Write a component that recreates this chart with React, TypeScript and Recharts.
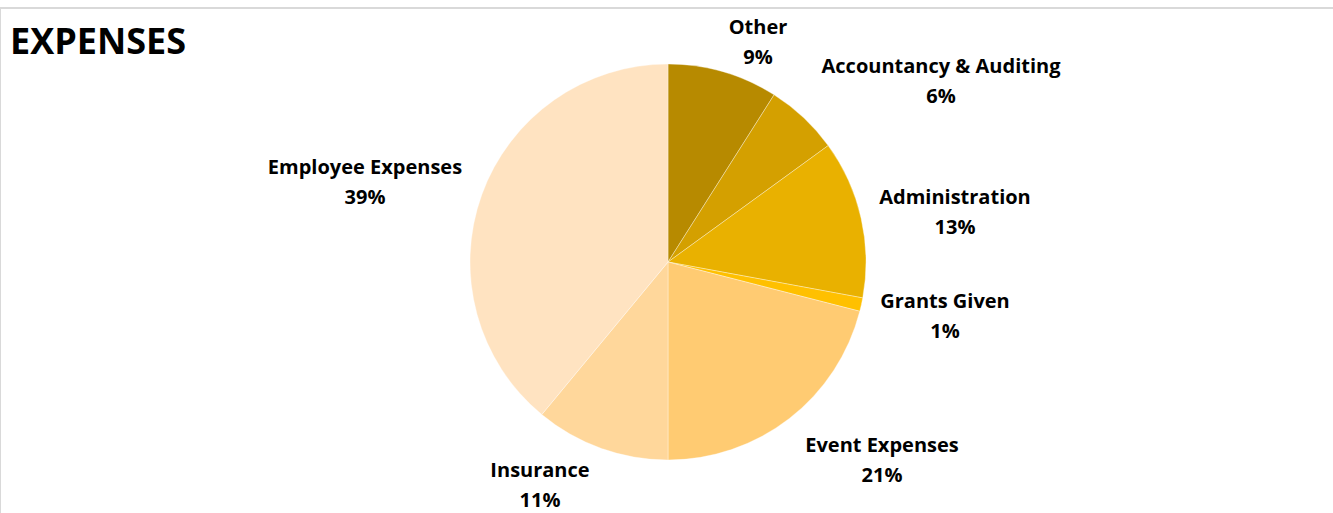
import React from "react";
import { PieChart, Pie, Cell } from "recharts";

const categories = [
  "Other",
  "Accountancy & Auditing",
  "Administration",
  "Grants Given",
  "Event Expenses",
  "Insurance",
  "Employee Expenses",
];
const shares = [9.0, 6.0, 12.9, 1.1, 21.0, 11.0, 39.0];
const sliceColors = ["#B78A00", "#D4A000", "#E9B100", "#FFC000", "#FFCB72", "#FFD79B", "#FFE3C1"];

// label centres, offset from the pie centre (Excel "best fit" placement)
const labelOffsets = [
  [90, -220],
  [273, -181],
  [287, -50],
  [277, 54],
  [214, 198],
  [-128, 223],
  [-303, -80],
];

const data = categories.map((name, i) => ({ name, value: shares[i] }));

const FONT = "'Open Sans', 'Liberation Sans', sans-serif";

function renderLabel(props: any) {
  const { cx, cy, index, percent, name } = props;
  const [dx, dy] = labelOffsets[index];
  const x = cx + dx;
  const y = cy + dy;
  return (
    <text
      x={x}
      y={y}
      textAnchor="middle"
      fontFamily={FONT}
      fontWeight={700}
      fontSize={20}
      fill="#000"
    >
      <tspan x={x} dy={-8}>
        {name}
      </tspan>
      <tspan x={x} dy={30}>
        {Math.round(percent * 100)}%
      </tspan>
    </text>
  );
}

export default function App() {
  return (
    <div style={{ position: "relative", width: 1333, height: 513, background: "#fff", overflow: "hidden" }}>
      <style>{"body{margin:0}"}</style>
      <div
        style={{
          position: "absolute",
          left: 0,
          top: 7,
          width: 1345,
          height: 520,
          border: "1px solid #d9d9d9",
          borderTopWidth: 2,
        }}
      />
      <div
        style={{
          position: "absolute",
          left: 10,
          top: 16,
          fontFamily: FONT,
          fontWeight: 700,
          fontSize: 36,
          lineHeight: "50px",
          color: "#000",
        }}
      >
        EXPENSES
      </div>
      <div style={{ position: "absolute", left: 0, top: 0 }}>
        <PieChart width={1333} height={513} margin={{ top: 0, right: 0, bottom: 0, left: 0 }}>
          <Pie
            data={data}
            dataKey="value"
            nameKey="name"
            cx={668}
            cy={262}
            outerRadius={198}
            startAngle={90}
            endAngle={-270}
            stroke="rgba(255,255,255,0.35)"
            strokeWidth={1}
            label={renderLabel}
            labelLine={false}
            isAnimationActive={false}
          >
            {data.map((d, i) => (
              <Cell key={d.name} fill={sliceColors[i]} />
            ))}
          </Pie>
        </PieChart>
      </div>
    </div>
  );
}
